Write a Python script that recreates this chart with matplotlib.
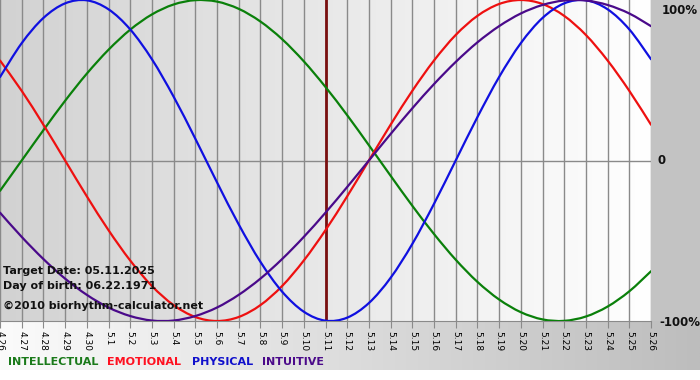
import numpy as np
import matplotlib
matplotlib.use("Agg")
import matplotlib.pyplot as plt
from matplotlib.colors import LinearSegmentedColormap
from matplotlib.path import Path
from matplotlib.patches import PathPatch

# ---------------- data ----------------
dates = ["4.26", "4.27", "4.28", "4.29", "4.30", "5.1", "5.2", "5.3", "5.4", "5.5",
         "5.6", "5.7", "5.8", "5.9", "5.10", "5.11", "5.12", "5.13", "5.14", "5.15",
         "5.16", "5.17", "5.18", "5.19", "5.20", "5.21", "5.22", "5.23", "5.24", "5.25",
         "5.26"]

physical = [0.520, 0.731, 0.888, 0.979, 0.998, 0.942, 0.817, 0.631, 0.398, 0.136,
            -0.136, -0.398, -0.631, -0.817, -0.942, -0.998, -0.979, -0.888, -0.731, -0.520,
            -0.270, 0.000, 0.270, 0.520, 0.731, 0.888, 0.979, 0.998, 0.942, 0.817,
            0.631]

emotional = [0.623, 0.434, 0.223, 0.000, -0.223, -0.434, -0.623, -0.782, -0.901, -0.975,
             -1.000, -0.975, -0.901, -0.782, -0.623, -0.434, -0.223, 0.000, 0.223, 0.434,
             0.623, 0.782, 0.901, 0.975, 1.000, 0.975, 0.901, 0.782, 0.623, 0.434,
             0.223]

intellectual = [-0.189, 0.000, 0.189, 0.372, 0.541, 0.690, 0.815, 0.910, 0.972, 0.999,
                0.990, 0.945, 0.866, 0.756, 0.618, 0.458, 0.282, 0.095, -0.095, -0.282,
                -0.458, -0.618, -0.756, -0.866, -0.945, -0.990, -0.999, -0.972, -0.910, -0.815,
                -0.690]

intuitive = [-0.325, -0.476, -0.614, -0.736, -0.837, -0.916, -0.969, -0.997, -0.997, -0.969,
             -0.916, -0.837, -0.736, -0.614, -0.476, -0.325, -0.165, 0.000, 0.165, 0.325,
             0.476, 0.614, 0.736, 0.837, 0.916, 0.969, 0.997, 0.997, 0.969, 0.916,
             0.837]

target_date = "5.11"
series_names = ["INTELLECTUAL", "EMOTIONAL", "PHYSICAL", "INTUITIVE"]
y_labels = ["100%", "0", "-100%"]

# ---------------- styling ----------------
W, H = 700, 380
fig = plt.figure(figsize=(7, 3.8), dpi=100)
fig.patch.set_facecolor("white")

plot_right = 651
plot_bottom = 321

bg = fig.add_axes([0, 0, 1, 1], zorder=-10)
bg.set_xlim(0, W)
bg.set_ylim(H, 0)
bg.axis("off")
bg.add_patch(plt.Rectangle((plot_right, 0), W - plot_right, plot_bottom, color="#c3c3c3", lw=0))
band = np.linspace(0, 1, 256).reshape(1, -1)
band_cmap = LinearSegmentedColormap.from_list("b", ["#fbfbfb", "#bdbdbd"])
bg.imshow(band, cmap=band_cmap, extent=(0, W, 370, plot_bottom), aspect="auto", zorder=0)

ax = fig.add_axes([0, 1 - plot_bottom / H, plot_right / W, plot_bottom / H])
x = np.arange(len(dates))
ax.set_xlim(0, len(dates) - 1)
ax.set_ylim(-1, 1)

grad = np.linspace(0, 1, 256).reshape(1, -1)
pcmap = LinearSegmentedColormap.from_list("p", ["#d2d2d2", "#ffffff"])
ax.imshow(grad, cmap=pcmap, extent=(0, len(dates) - 1, -1, 1), aspect="auto", zorder=0)

for xi in x:
    ax.axvline(xi, color="#8a8a8a", lw=1.0, zorder=1)
ax.axhline(0, color="#8a8a8a", lw=1.0, zorder=1)

ti = dates.index(target_date)
ax.axvline(ti, color="#7a1010", lw=2.0, zorder=2)


def smooth_path(xs, ys):
    """Smooth rendering of the daily points (Catmull-Rom drawn as Bezier curves)."""
    xs = np.asarray(xs, float)
    ys = np.asarray(ys, float)
    pts = np.column_stack([xs, ys])
    verts = [pts[0]]
    codes = [Path.MOVETO]
    n = len(pts)
    for i in range(n - 1):
        p0 = pts[i - 1] if i > 0 else pts[i]
        p1 = pts[i]
        p2 = pts[i + 1]
        p3 = pts[i + 2] if i + 2 < n else pts[i + 1]
        c1 = p1 + (p2 - p0) / 6.0
        c2 = p2 - (p3 - p1) / 6.0
        verts += [c1, c2, p2]
        codes += [Path.CURVE4] * 3
    return Path(verts, codes)


for vals, col in [(intellectual, "#0a800a"), (emotional, "#ee1010"),
                  (physical, "#1010e0"), (intuitive, "#4a0a8a")]:
    ax.add_patch(PathPatch(smooth_path(x, vals), facecolor="none", edgecolor=col,
                           lw=1.6, zorder=3, capstyle="round"))

for s in ["top", "left", "right"]:
    ax.spines[s].set_visible(False)
ax.spines["bottom"].set_color("#8a8a8a")
ax.set_yticks([])
ax.set_xticks(x)
ax.set_xticklabels(dates, rotation=-90, fontsize=6.5, family="DejaVu Sans")
ax.tick_params(axis="x", length=5, color="#8a8a8a", pad=2)

tfont = dict(fontsize=8, fontweight="bold", family="DejaVu Sans", color="#111111")
fig.text(3 / W, 1 - 271 / H, "Target Date: 05.11.2025", va="center", ha="left", **tfont)
fig.text(3 / W, 1 - 286 / H, "Day of birth: 06.22.1971", va="center", ha="left", **tfont)
fig.text(3 / W, 1 - 306 / H, "\u00a92010 biorhythm-calculator.net", va="center", ha="left", **tfont)

yfont = dict(fontsize=8.5, fontweight="bold", family="DejaVu Sans", color="#111111")
fig.text(698 / W, 1 - 11 / H, y_labels[0], ha="right", va="center", **yfont)
fig.text(657 / W, 1 - 161 / H, y_labels[1], ha="left", va="center", **yfont)
fig.text(700 / W, 1 - 322 / H, y_labels[2], ha="right", va="center", **yfont)

leg_colors = ["#1a7a1a", "#ff1020", "#1010cc", "#4b0a8a"]
leg_x = [8, 107, 192, 262]
for name, c, lx in zip(series_names, leg_colors, leg_x):
    fig.text(lx / W, 1 - 362 / H, name, color=c, fontsize=8, fontweight="bold",
             family="DejaVu Sans", ha="left", va="center")

fig.savefig("out.png", dpi=100)
